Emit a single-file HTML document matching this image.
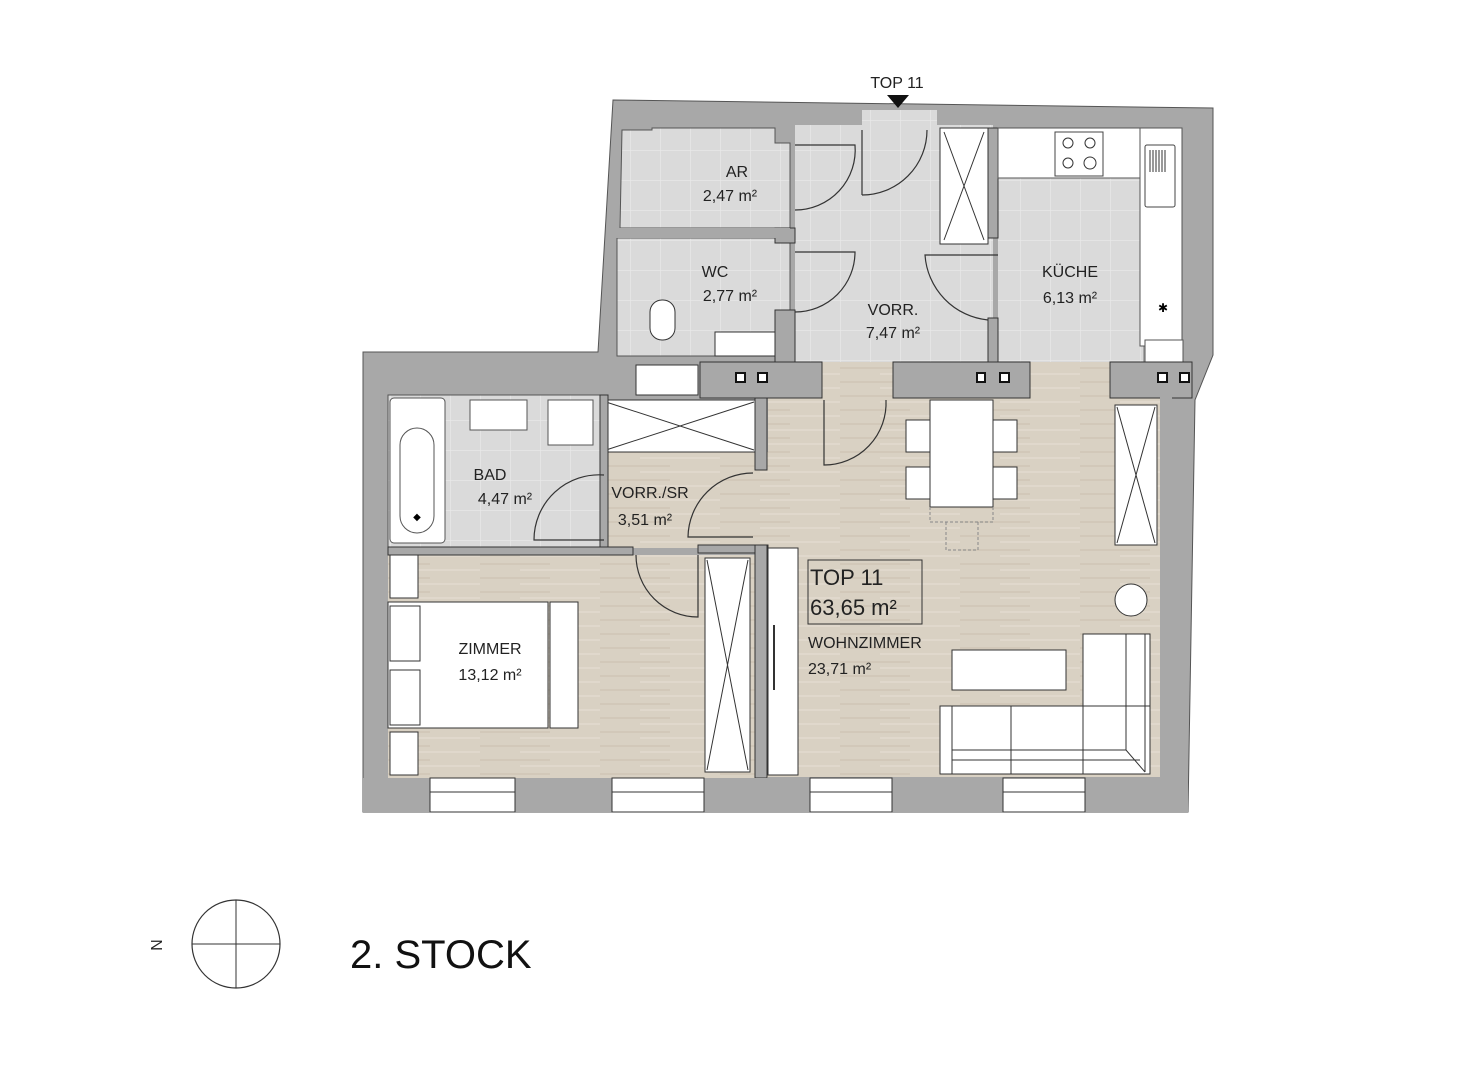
<!DOCTYPE html>
<html><head><meta charset="utf-8"><style>
html,body{margin:0;padding:0;background:#fff;}
svg{display:block;font-family:"Liberation Sans",sans-serif;}
</style></head><body>
<svg width="1478" height="1080" viewBox="0 0 1478 1080" xmlns="http://www.w3.org/2000/svg">
<defs>
<pattern id="wood" width="120" height="14" patternUnits="userSpaceOnUse">
<rect width="120" height="14" fill="#d9d1c3"/>
<line x1="0" y1="4" x2="70" y2="4" stroke="#cfc6b6" stroke-width="1.5"/>
<line x1="40" y1="10" x2="120" y2="10" stroke="#e2dbcf" stroke-width="1.5"/>
</pattern>
<pattern id="tile" width="30" height="30" patternUnits="userSpaceOnUse">
<rect width="30" height="30" fill="#dadada"/>
<path d="M0 0H30M0 0V30" stroke="#e8e8e8" stroke-width="1.5"/>
</pattern>
</defs>

<polygon points="613,100 1213,108 1213,355 1195,400 1188,812 363,812 363,352 598,352" fill="#a8a8a8" stroke="#555" stroke-width="1"/>

<polygon points="622,130 652,130 652,128 775,128 775,143 790,143 790,228 620,228" fill="url(#tile)" stroke="#555" stroke-width="1"/>
<rect x="617" y="238" width="173" height="118" fill="url(#tile)" stroke="#555" stroke-width="1"/>
<rect x="795" y="125" width="198" height="237" fill="url(#tile)"/>
<rect x="862" y="110" width="75" height="20" fill="url(#tile)"/>
<rect x="998" y="128" width="145" height="234" fill="url(#tile)"/>
<rect x="775" y="228" width="20" height="15" fill="#a8a8a8" stroke="#333"/>
<rect x="775" y="310" width="20" height="52" fill="#a8a8a8" stroke="#333"/>
<rect x="988" y="128" width="10" height="110" fill="#a8a8a8" stroke="#333"/>
<rect x="988" y="318" width="10" height="44" fill="#a8a8a8" stroke="#333"/>
<rect x="615" y="228" width="175" height="10" fill="#a8a8a8"/>
<rect x="998" y="128" width="142" height="50" fill="#fff" stroke="#555"/>
<rect x="1140" y="128" width="42" height="218" fill="#fff" stroke="#555"/>
<rect x="1055" y="132" width="48" height="44" fill="#fff" stroke="#444"/>
<circle cx="1068" cy="143" r="5" fill="none" stroke="#333"/><circle cx="1090" cy="143" r="5" fill="none" stroke="#333"/>
<circle cx="1068" cy="163" r="5" fill="none" stroke="#333"/><circle cx="1090" cy="163" r="6" fill="none" stroke="#333"/>
<rect x="1145" y="145" width="30" height="62" rx="2" fill="#fff" stroke="#444"/>
<path d="M1150 150V172M1153 150V172M1156 150V172M1159 150V172M1162 150V172M1165 150V172" stroke="#333"/>
<text x="1163" y="312" font-size="12" text-anchor="middle">✱</text>
<rect x="1145" y="340" width="38" height="22" fill="#fff" stroke="#555"/>
<rect x="940" y="128" width="48" height="116" fill="#fff" stroke="#333"/>
<path d="M944 132L984 240M984 132L944 240" stroke="#333"/>
<rect x="650" y="300" width="25" height="40" rx="12" fill="#fff" stroke="#333"/>
<rect x="715" y="332" width="60" height="24" fill="#fff" stroke="#333"/>

<rect x="388" y="395" width="215" height="152" fill="url(#tile)" stroke="#555"/>
<rect x="605" y="452" width="165" height="96" fill="url(#wood)"/>
<rect x="768" y="362" width="392" height="415" fill="url(#wood)"/>
<rect x="388" y="555" width="380" height="223" fill="url(#wood)"/>
<rect x="700" y="362" width="122" height="36" fill="#a8a8a8" stroke="#333"/>
<rect x="893" y="362" width="137" height="36" fill="#a8a8a8" stroke="#333"/>
<rect x="1110" y="362" width="82" height="36" fill="#a8a8a8" stroke="#333"/>
<rect x="1160" y="395" width="12" height="385" fill="#a8a8a8"/>
<rect x="636" y="365" width="62" height="30" fill="#fff" stroke="#333"/>
<g fill="#fff" stroke="#111" stroke-width="2">
<rect x="736" y="373" width="9" height="9"/><rect x="758" y="373" width="9" height="9"/>
<rect x="977" y="373" width="8" height="9"/><rect x="1000" y="373" width="9" height="9"/>
<rect x="1158" y="373" width="9" height="9"/><rect x="1180" y="373" width="9" height="9"/>
</g>
<rect x="390" y="398" width="55" height="145" rx="4" fill="#fff" stroke="#555"/>
<rect x="400" y="428" width="34" height="105" rx="17" fill="#fff" stroke="#555"/>
<rect x="470" y="400" width="57" height="30" fill="#fff" stroke="#555"/>
<rect x="548" y="400" width="45" height="45" fill="#fff" stroke="#555"/>
<text x="417" y="520" font-size="10" text-anchor="middle">◆</text>
<rect x="604" y="400" width="152" height="52" fill="#fff" stroke="#333"/>
<path d="M606 402L754 450M754 402L606 450" stroke="#333"/>
<rect x="600" y="395" width="8" height="153" fill="#a8a8a8" stroke="#333"/>
<rect x="755" y="398" width="12" height="72" fill="#a8a8a8" stroke="#333"/>
<rect x="388" y="547" width="245" height="8" fill="#a8a8a8" stroke="#333"/>
<rect x="698" y="545" width="70" height="8" fill="#a8a8a8" stroke="#333"/>
<rect x="755" y="545" width="12" height="233" fill="#a8a8a8" stroke="#333"/>
<rect x="705" y="558" width="45" height="214" fill="#fff" stroke="#333"/>
<path d="M707 560L748 770M748 560L707 770" stroke="#333"/>
<rect x="768" y="548" width="30" height="227" fill="#fff" stroke="#333"/>
<line x1="774" y1="625" x2="774" y2="690" stroke="#333" stroke-width="2"/>
<rect x="1115" y="405" width="42" height="140" fill="#fff" stroke="#333"/>
<path d="M1117 407L1155 543M1155 407L1117 543" stroke="#333"/>
<rect x="390" y="555" width="28" height="43" fill="#fff" stroke="#333"/>
<rect x="390" y="732" width="28" height="43" fill="#fff" stroke="#333"/>
<rect x="388" y="602" width="160" height="126" fill="#fff" stroke="#333"/>
<rect x="390" y="606" width="30" height="55" fill="#fff" stroke="#333"/>
<rect x="390" y="670" width="30" height="55" fill="#fff" stroke="#333"/>
<rect x="550" y="602" width="28" height="126" fill="#fff" stroke="#333"/>
<rect x="930" y="400" width="63" height="107" fill="#fff" stroke="#333"/>
<rect x="906" y="420" width="24" height="32" fill="#fff" stroke="#333"/>
<rect x="906" y="467" width="24" height="32" fill="#fff" stroke="#333"/>
<rect x="993" y="420" width="24" height="32" fill="#fff" stroke="#333"/>
<rect x="993" y="467" width="24" height="32" fill="#fff" stroke="#333"/>
<path d="M930 507V522H993V507M946 522V550H978V522" fill="none" stroke="#888" stroke-dasharray="3,2"/>
<circle cx="1131" cy="600" r="16" fill="#fff" stroke="#333"/>
<rect x="952" y="650" width="114" height="40" fill="#fff" stroke="#333"/>
<rect x="1083" y="634" width="67" height="140" fill="#fff" stroke="#333"/>
<rect x="940" y="706" width="210" height="68" fill="#fff" stroke="#333"/>
<path d="M952 706V774M1011 706V774M1083 706V774M1126 634V750M1145 634V772M952 750H1126L1145 772M952 760H1140" fill="none" stroke="#333"/>
<rect x="808" y="560" width="114" height="64" fill="none" stroke="#333"/>
<rect x="363" y="778" width="825" height="34" fill="#a8a8a8"/>
<g fill="#fff" stroke="#333">
<rect x="430" y="778" width="85" height="34"/><rect x="612" y="778" width="92" height="34"/>
<rect x="810" y="778" width="82" height="34"/><rect x="1003" y="778" width="82" height="34"/>
</g>
<path d="M430 792H515M612 792H704M810 792H892M1003 792H1085" stroke="#333"/>
<g fill="none" stroke="#333" stroke-width="1.2">
<path d="M795 145H855A60 60 0 0 1 795 210"/>
<path d="M795 252H855A60 60 0 0 1 795 312"/>
<path d="M862 195V130M862 195A65 65 0 0 0 927 130"/>
<path d="M998 255H925A70 70 0 0 0 988 320"/>
<path d="M604 475A65 65 0 0 0 534 540H604"/>
<path d="M753 473A65 65 0 0 0 688 537H753"/>
<path d="M636 555A62 62 0 0 0 698 617V555"/>
<path d="M824 400V465A62 62 0 0 0 886 400"/>
</g>
<g font-size="16" fill="#222" text-anchor="middle">
<text x="737" y="177">AR</text><text x="730" y="201">2,47 m²</text>
<text x="715" y="277">WC</text><text x="730" y="301">2,77 m²</text>
<text x="893" y="315">VORR.</text><text x="893" y="338">7,47 m²</text>
<text x="1070" y="277">KÜCHE</text><text x="1070" y="303">6,13 m²</text>
<text x="490" y="480">BAD</text><text x="505" y="504">4,47 m²</text>
<text x="650" y="498">VORR./SR</text><text x="645" y="525">3,51 m²</text>
<text x="490" y="654">ZIMMER</text><text x="490" y="680">13,12 m²</text>
</g>
<text x="810" y="585" font-size="22" fill="#222">TOP 11</text>
<text x="810" y="615" font-size="22" fill="#222">63,65 m²</text>
<text x="808" y="648" font-size="16" fill="#222">WOHNZIMMER</text>
<text x="808" y="674" font-size="16" fill="#222">23,71 m²</text>
<text x="897" y="88" font-size="16" fill="#222" text-anchor="middle">TOP 11</text>
<polygon points="887,95 909,95 898,108" fill="#111"/>
<circle cx="236" cy="944" r="44" fill="none" stroke="#333" stroke-width="1.2"/>
<path d="M192 944H280M236 900V988" stroke="#333"/>
<text x="157" y="945" font-size="16" fill="#222" text-anchor="middle" transform="rotate(90 157 945)" dy="6">N</text>
<text x="350" y="968" font-size="40" fill="#111">2. STOCK</text>
</svg>
</body></html>
